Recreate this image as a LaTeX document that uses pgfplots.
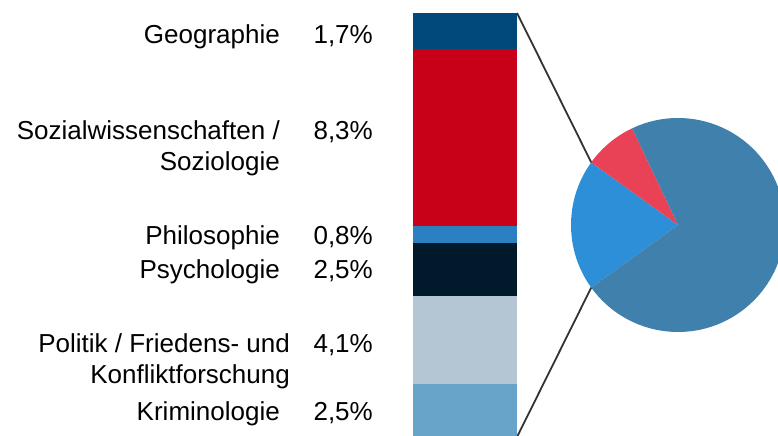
\documentclass[border=0pt]{standalone}
\usepackage{pgfplots}
\pgfplotsset{compat=1.18}
\usepackage{fontspec}
\setmainfont{Liberation Sans}
\definecolor{cGeo}{HTML}{00497A}
\definecolor{cSoz}{HTML}{C80018}
\definecolor{cPhil}{HTML}{2A80C0}
\definecolor{cPsy}{HTML}{001A2C}
\definecolor{cPol}{HTML}{B4C6D3}
\definecolor{cKrim}{HTML}{68A3CA}
\definecolor{pSteel}{HTML}{4080AC}
\definecolor{pRed}{HTML}{E94256}
\definecolor{pLight}{HTML}{2E8FD9}
\definecolor{cLine}{HTML}{333333}
\tikzset{lbl/.style={font=\fontsize{26bp}{31bp}\selectfont, anchor=base east, inner sep=0pt}}
\begin{document}
\begin{tikzpicture}
\useasboundingbox (0,0) rectangle (778bp,436bp);
% pie shares (percent)
\def\pieRed{8.0}
\def\pieLight{19.9}
\def\pieSteel{72.1}
\pgfmathsetmacro\la{180-\pieLight*1.8}
\pgfmathsetmacro\lb{180+\pieLight*1.8}
\pgfmathsetmacro\ra{\la-\pieRed*3.6}
\pgfmathsetmacro\se{\ra+360}
\begin{axis}[
  at={(0,0)}, anchor=south west,
  scale only axis, width=778bp, height=436bp,
  xmin=0, xmax=778, ymin=0.047, ymax=20.51,
  hide axis, clip=true,
  ybar stacked, bar width=104bp,
]
\addplot[fill=cKrim, draw=none] coordinates {(465,2.5)};
\addplot[fill=cPol, draw=none] coordinates {(465,4.1)};
\addplot[fill=cPsy, draw=none] coordinates {(465,2.5)};
\addplot[fill=cPhil, draw=none] coordinates {(465,0.8)};
\addplot[fill=cSoz, draw=none] coordinates {(465,8.3)};
\addplot[fill=cGeo, draw=none] coordinates {(465,1.7)};
% connector lines
\draw[cLine, line width=1.8bp] (axis cs:678,9.95) ++(\la:107bp) -- (axis cs:517,19.9);
\draw[cLine, line width=1.8bp] (axis cs:678,9.95) ++(\lb:107bp) -- (axis cs:517,0);
% pie
\fill[pSteel] (axis cs:678,9.95) -- ++(\lb:107bp) arc[start angle=\lb, end angle=\se, radius=107bp] -- cycle;
\fill[pRed] (axis cs:678,9.95) -- ++(\ra:107bp) arc[start angle=\ra, end angle=\la, radius=107bp] -- cycle;
\fill[pLight] (axis cs:678,9.95) -- ++(\la:107bp) arc[start angle=\la, end angle=\lb, radius=107bp] -- cycle;
% labels
\node[lbl] at (axis cs:280,18.47) {Geographie};
\node[lbl] at (axis cs:373,18.47) {1,7\%};
\node[lbl] at (axis cs:280,13.97) {Sozialwissenschaften /};
\node[lbl] at (axis cs:280,12.53) {Soziologie};
\node[lbl] at (axis cs:373,13.97) {8,3\%};
\node[lbl] at (axis cs:280,9.04) {Philosophie};
\node[lbl] at (axis cs:373,9.04) {0,8\%};
\node[lbl] at (axis cs:280,7.45) {Psychologie};
\node[lbl] at (axis cs:373,7.45) {2,5\%};
\node[lbl] at (axis cs:290,3.96) {Politik / Friedens- und};
\node[lbl] at (axis cs:290,2.52) {Konfliktforschung};
\node[lbl] at (axis cs:373,3.96) {4,1\%};
\node[lbl] at (axis cs:280,0.76) {Kriminologie};
\node[lbl] at (axis cs:373,0.76) {2,5\%};
\end{axis}
\end{tikzpicture}
\end{document}
